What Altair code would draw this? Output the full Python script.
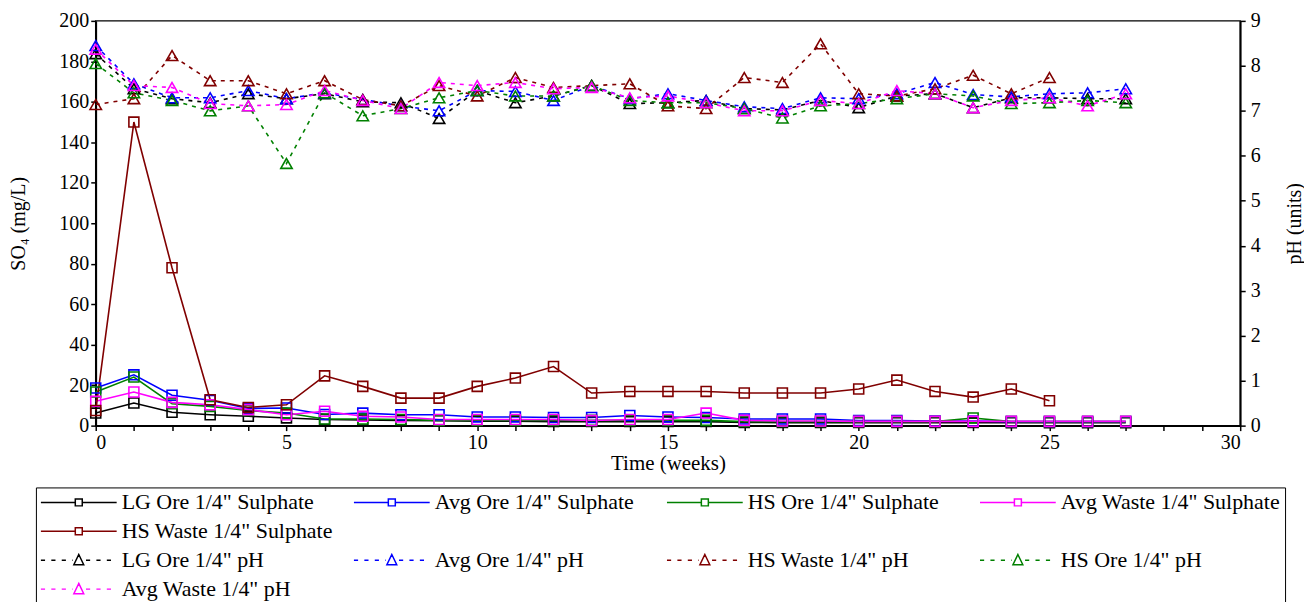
import altair as alt
import pandas as pd

weeks = list(range(28))

sulph_names = ['LG Ore 1/4" Sulphate', 'Avg Ore 1/4" Sulphate', 'HS Ore 1/4" Sulphate',
               'Avg Waste 1/4" Sulphate', 'HS Waste 1/4" Sulphate']
ph_names = ['LG Ore 1/4" pH', 'Avg Ore 1/4" pH', 'HS Waste 1/4" pH',
            'HS Ore 1/4" pH', 'Avg Waste 1/4" pH']
blank_names = [' ', '  ', '   ']

sulph_colors = ['#000000', '#0000FF', '#008000', '#FF00FF', '#800000']
ph_colors = ['#000000', '#0000FF', '#800000', '#008000', '#FF00FF']

# Sulphate (mg/L)
lg_ore_so4 = [6.2, 11.2, 6.6, 5.4, 4.6, 3.8, 3.0, 2.8, 2.6, 2.4, 2.2, 2.2, 2.0, 2.0,
              2.0, 2.0, 2.0, 1.6, 1.5, 1.5, 1.5, 1.5, 1.5, 1.5, 1.4, 1.4, 1.4, 1.4]
avg_ore_so4 = [18.6, 25.1, 15.0, 12.5, 8.5, 8.7, 5.5, 6.2, 5.4, 5.4, 4.3, 4.3, 4.0, 4.0,
               5.0, 4.3, 4.0, 3.3, 3.3, 3.3, 2.5, 2.5, 2.3, 2.3, 2.0, 2.0, 2.0, 2.0]
hs_ore_so4 = [16.6, 24.0, 10.8, 9.5, 7.5, 6.2, 3.3, 3.3, 3.0, 2.6, 2.6, 2.6, 2.6, 2.6,
              2.6, 2.6, 2.6, 2.0, 2.0, 2.0, 2.0, 2.0, 2.0, 3.8, 2.0, 2.0, 2.0, 2.0]
avg_waste_so4 = [12.0, 16.6, 11.5, 10.3, 7.9, 5.4, 7.1, 4.6, 4.3, 3.0, 3.0, 3.0, 3.0, 2.5,
                 3.0, 3.0, 6.2, 2.6, 2.3, 2.3, 2.1, 2.1, 2.1, 2.1, 2.1, 2.1, 2.1, 2.1]
hs_waste_so4 = [7.5, 150.0, 78.0, 12.8, 9.0, 10.3, 24.6, 19.4, 13.6, 13.6, 19.4, 23.5, 29.2,
                16.1, 16.9, 16.9, 16.9, 16.1, 16.1, 16.1, 18.1, 22.5, 16.9, 14.1, 18.1, 12.3]

# pH (units)
lg_ore_ph = [8.27, 7.49, 7.27, 7.18, 7.38, 7.27, 7.38, 7.20, 7.18, 6.83, 7.45, 7.18, 7.33, 7.56,
             7.16, 7.18, 7.23, 7.05, 7.02, 7.23, 7.07, 7.33, 7.38, 7.07, 7.29, 7.29, 7.27, 7.27]
avg_ore_ph = [8.45, 7.60, 7.29, 7.29, 7.45, 7.27, 7.40, 7.25, 7.11, 7.00, 7.45, 7.43, 7.23, 7.56,
              7.27, 7.38, 7.23, 7.09, 7.05, 7.29, 7.27, 7.38, 7.63, 7.36, 7.31, 7.38, 7.40, 7.49]
hs_waste_ph = [7.14, 7.27, 8.23, 7.67, 7.67, 7.38, 7.67, 7.25, 7.11, 7.56, 7.33, 7.74, 7.52,
               7.56, 7.60, 7.11, 7.05, 7.74, 7.63, 8.49, 7.38, 7.33, 7.49, 7.79, 7.38, 7.74]
hs_ore_ph = [8.05, 7.40, 7.23, 7.00, 7.11, 5.83, 7.40, 6.89, 7.05, 7.29, 7.45, 7.33, 7.33, 7.56,
             7.23, 7.18, 7.18, 7.05, 6.84, 7.11, 7.16, 7.27, 7.38, 7.33, 7.16, 7.18, 7.23, 7.18]
avg_waste_ph = [8.37, 7.56, 7.52, 7.16, 7.11, 7.14, 7.45, 7.23, 7.05, 7.63, 7.56, 7.63, 7.49, 7.52,
                7.29, 7.33, 7.18, 7.00, 7.00, 7.23, 7.16, 7.45, 7.38, 7.07, 7.23, 7.29, 7.11, 7.38]

x_ticks = list(range(0, 31))
so4_ticks = list(range(0, 201, 20))
ph_ticks = list(range(0, 10))

# ---- tables ----
so4_series = [lg_ore_so4, avg_ore_so4, hs_ore_so4, avg_waste_so4, hs_waste_so4]
ph_series = [lg_ore_ph, avg_ore_ph, hs_waste_ph, hs_ore_ph, avg_waste_ph]

rows = []
for name, col, vals in zip(sulph_names, sulph_colors, so4_series):
    for w, v in zip(weeks, vals):
        rows.append({"week": w, "so4": v, "series": name, "col": col})
so4_df = pd.DataFrame(rows)

rows = []
for name, col, vals in zip(ph_names, ph_colors, ph_series):
    for w, v in zip(weeks, vals):
        rows.append({"week": w, "ph": v, "series": name, "col": col})
ph_df = pd.DataFrame(rows)

domain = sulph_names + blank_names + ph_names
crange = sulph_colors + ['#FFFFFF'] * 3 + ph_colors
color_scale = alt.Scale(domain=domain, range=crange)

FONT = "Liberation Serif"

# legend symbol paths (unit square -1..1): line + marker
sq = 0.092
path_s = (f"M-1,0L{-sq},0M{sq},0L1,0"
          f"M{-sq},{-sq}L{sq},{-sq}L{sq},{sq}L{-sq},{sq}Z")
tr = 0.13
dash, gap = 0.11, 0.165
segs = []
pos = -1.0
while pos < -tr - 0.03:
    end = min(pos + dash, -tr - 0.03)
    segs.append(f"M{pos:.3f},0L{end:.3f},0")
    pos += dash + gap
pos = tr + 0.06
while pos < 1.0:
    end = min(pos + dash, 1.0)
    segs.append(f"M{pos:.3f},0L{end:.3f},0")
    pos += dash + gap
path_p = "".join(segs) + f"M0,{-0.15}L{tr},{0.12}L{-tr},{0.12}Z"

shape_range = [path_s] * 5 + ["M0,0"] * 3 + [path_p] * 5
shape_scale = alt.Scale(domain=domain, range=shape_range)

legend = alt.Legend(
    title=None, orient="none", legendX=-60, legendY=468, direction="horizontal",
    columns=4, gridAlign="all", columnPadding=11, rowPadding=7,
    padding=4, strokeColor="black",
    labelFont=FONT, labelFontSize=22, labelColor="black", labelLimit=0,
    labelOffset=4, symbolSize=5776, symbolStrokeWidth=1.5, clipHeight=22,
    symbolFillColor="transparent",
)

x_enc = alt.X("week:Q", scale=alt.Scale(domain=[0, 30], nice=False),
              axis=alt.Axis(values=x_ticks, title="Time (weeks)",
                            labelExpr="datum.value % 5 == 0 ? datum.label : ''",
                            titlePadding=0, titleFontSize=21))

y_so4 = alt.Y("so4:Q", scale=alt.Scale(domain=[0, 200], nice=False),
              axis=alt.Axis(values=so4_ticks, title="SO₄ (mg/L)", orient="left",
                            titlePadding=30))
y_ph = alt.Y("ph:Q", scale=alt.Scale(domain=[0, 9], nice=False),
             axis=alt.Axis(values=ph_ticks, title="pH  (units)", orient="right",
                           titleAngle=270, titlePadding=44, labelPadding=5))

col_id = alt.Color("col:N", scale=None)

s_line = alt.Chart(so4_df).mark_line(strokeWidth=1.6).encode(
    x=x_enc, y=y_so4, color=col_id, detail="series:N")
s_pts = alt.Chart(so4_df).mark_point(shape="square", size=100, filled=False,
                                     strokeWidth=1.6, opacity=1).encode(
    x=x_enc, y=y_so4, color=col_id)
# empty layer that only carries the legend (line + marker symbols)
s_leg = alt.Chart(so4_df).transform_filter("false").mark_point(
    filled=False, size=5776, strokeWidth=1.5, opacity=1).encode(
    x=x_enc, y=y_so4,
    color=alt.Color("series:N", scale=color_scale, legend=legend),
    shape=alt.Shape("series:N", scale=shape_scale, legend=legend))
left = alt.layer(s_line, s_pts, s_leg)

p_line = alt.Chart(ph_df).mark_line(strokeWidth=1.6, strokeDash=[4, 5]).encode(
    x=x_enc, y=y_ph, color=col_id, detail="series:N")
p_pts = alt.Chart(ph_df).mark_point(shape="triangle-up", size=130, filled=False,
                                    strokeWidth=1.6, opacity=1).encode(
    x=x_enc, y=y_ph, color=col_id)
right = alt.layer(p_line, p_pts)

chart = alt.layer(left, right).resolve_scale(y="independent").properties(
    width=1148, height=406,
    autosize=alt.AutoSizeParams(type="none"),
    padding={"left": 88, "top": 12, "right": 64, "bottom": 176},
).configure(font=FONT).configure_view(stroke="black", strokeWidth=1.5).configure_axis(
    grid=False, domainColor="black", domainWidth=1.8, tickColor="black", tickWidth=1.5,
    tickSize=5, labelFont=FONT, labelFontSize=20, labelColor="black",
    titleFont=FONT, titleFontSize=20, titleFontWeight="normal", titleColor="black",
)

chart.save("out.html", embed_options={"renderer": "svg", "actions": False})
